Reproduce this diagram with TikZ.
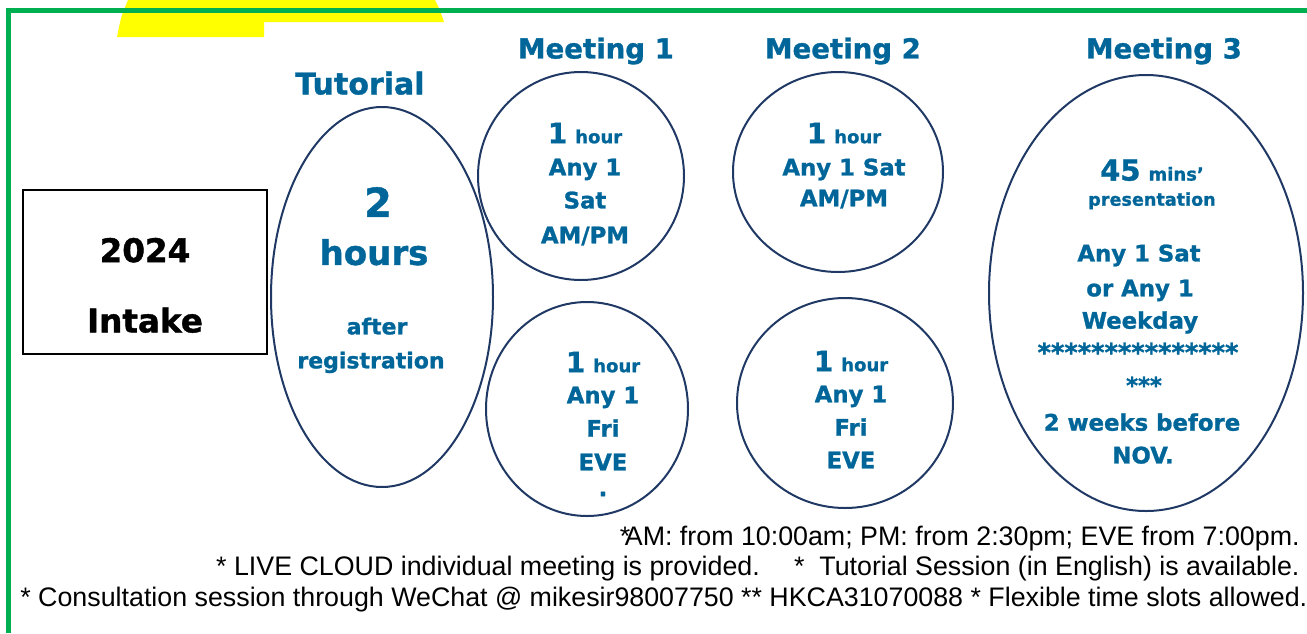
\documentclass[tikz,border=0pt]{standalone}
\usepackage{fontspec}
\setmainfont{Liberation Sans}
\newfontfamily\heavy{DejaVu Sans}[BoldFeatures={FakeBold=1.2}]
\usetikzlibrary{shapes.geometric}

\definecolor{ringblue}{RGB}{31,56,100}
\definecolor{textblue}{RGB}{0,102,153}
\definecolor{framegreen}{RGB}{0,176,80}
\definecolor{markyellow}{RGB}{255,255,0}

\newcommand{\numsz}{\fontsize{14}{16}\selectfont}
\newcommand{\unitsz}{\fontsize{9}{11}\selectfont}

\tikzset{
  ring/.style={draw=ringblue, line width=1pt, ellipse, inner sep=0pt},
  head/.style={text=textblue, inner sep=0pt, text depth=0pt,
    font=\heavy\bfseries\fontsize{13.8}{16}\selectfont},
  body/.style={text=textblue, inner sep=0pt, text depth=0pt,
    font=\heavy\bfseries\fontsize{11.4}{14}\selectfont},
  intaketext/.style={inner sep=0pt, text depth=0pt,
    font=\heavy\bfseries\fontsize{16.3}{18}\selectfont},
  note/.style={inner sep=0pt, font=\fontsize{13.4}{15}\selectfont},
}

\begin{document}
\begin{tikzpicture}[x=0.5pt, y=-0.5pt]
    \useasboundingbox (0,0) rectangle (1307,633);
    % yellow tab
    \fill[markyellow] (117,37) .. controls (121,17) .. (128,0) -- (435,0)
        .. controls (440,10) .. (444,22) -- (264,22) -- (264,37) -- cycle;
    % green frame
    \draw[framegreen, line width=2.5pt] (8.5,633) -- (8.5,10.5) -- (1307,10.5);
    % intake box
    \node[draw, line width=1pt, minimum width=122pt, minimum height=82pt] (intake) at (145,272) {};
    \node[intaketext] (year) at (145,250) {2024};
    \node[intaketext] (word) at (145,320) {Intake};
    % headings
    \node[head, font=\heavy\bfseries\fontsize{15}{17}\selectfont] (tuthead) at (360,83) {Tutorial};
    \node[head] (m1head) at (596,48) {Meeting 1};
    \node[head] (m2head) at (843,48) {Meeting 2};
    \node[head] (m3head) at (1164,48) {Meeting 3};
    % rings
    \node[ring, minimum width=111pt, minimum height=190pt] (tut) at (382,297) {};
    \node[ring, minimum width=103pt, minimum height=104pt] (m1sat) at (581,176) {};
    \node[ring, minimum width=101pt, minimum height=107pt] (m1fri) at (587,409) {};
    \node[ring, minimum width=105pt, minimum height=100pt] (m2sat) at (838,172) {};
    \node[ring, minimum width=108pt, minimum height=105pt] (m2fri) at (845,403) {};
    \node[ring, minimum width=157pt, minimum height=218pt] (m3) at (1146,293) {};
    % tutorial
    \node[body, font=\heavy\bfseries\fontsize{20}{22}\selectfont] (tut1) at (378,202) {2};
    \node[body, font=\heavy\bfseries\fontsize{17}{19}\selectfont] (tut2) at (374,252) {hours};
    \node[body, font=\heavy\bfseries\fontsize{11}{13}\selectfont] (tut3) at (377,326) {after};
    \node[body, font=\heavy\bfseries\fontsize{11}{13}\selectfont] (tut4) at (371,360) {registration};
    % meeting 1
    \node[body] (m1a) at (585,133) {{\numsz 1} {\unitsz hour}};
    \node[body] (m1b) at (585,167) {Any 1};
    \node[body] (m1c) at (585,200) {Sat};
    \node[body] (m1d) at (585,235) {AM/PM};
    \node[body] (m1e) at (603,362) {{\numsz 1} {\unitsz hour}};
    \node[body] (m1f) at (603,395) {Any 1};
    \node[body] (m1g) at (603,428) {Fri};
    \node[body] (m1h) at (603,462) {EVE};
    \node[body] (m1i) at (603,494) {.};
    % meeting 2
    \node[body] (m2a) at (844,133) {{\numsz 1} {\unitsz hour}};
    \node[body] (m2b) at (844,167) {Any 1 Sat};
    \node[body] (m2c) at (844,198) {AM/PM};
    \node[body] (m2d) at (851,361) {{\numsz 1} {\unitsz hour}};
    \node[body] (m2e) at (851,394) {Any 1};
    \node[body] (m2f) at (851,427) {Fri};
    \node[body] (m2g) at (851,460) {EVE};
    % meeting 3
    \node[body] (m3a) at (1152,170) {{\fontsize{14.5}{16}\selectfont 45} {\unitsz mins’}};
    \node[body, font=\heavy\bfseries\fontsize{8.8}{10}\selectfont] (m3b) at (1152,199) {presentation};
    \node[body] (m3c) at (1139,253) {Any 1 Sat};
    \node[body] (m3d) at (1140,288) {or Any 1};
    \node[body] (m3e) at (1140,320) {Weekday};
    \node[body, font=\heavy\bfseries\fontsize{12.8}{14}\selectfont] (m3f) at (1138,352) {***************};
    \node[body] (m3g) at (1144,385) {***};
    \node[body] (m3h) at (1142,422) {2 weeks before};
    \node[body] (m3i) at (1143,455) {NOV.};
    % notes
    \node[note, anchor=base east] (note1) at (1300,545) {*\kern-.2em AM: from 10:00am; PM: from 2:30pm; EVE from 7:00pm.};
    \node[note, anchor=base east] (note2) at (1300,575) {* LIVE CLOUD individual meeting is provided.\quad\ *\ \ Tutorial Session (in English) is available.};
    \node[note, anchor=base west] (note3) at (20,606) {* Consultation session through WeChat @ mikesir98007750 ** HKCA31070088 * Flexible time slots allowed.};
\end{tikzpicture}
\end{document}
